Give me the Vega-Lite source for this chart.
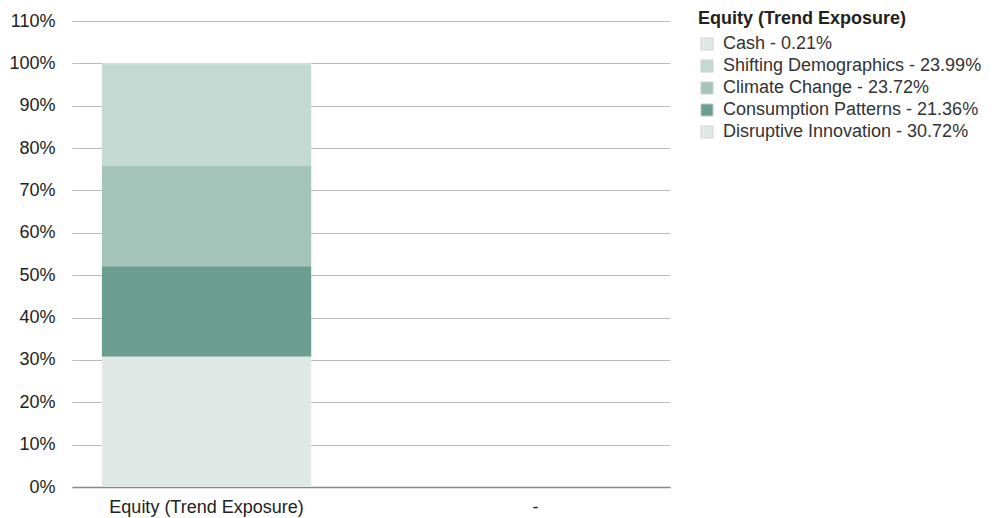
{
  "$schema": "https://vega.github.io/schema/vega-lite/v6.json",
  "width": 598,
  "height": 466,
  "autosize": {"type": "none"},
  "padding": {"left": 72, "top": 21, "right": 327, "bottom": 31},
  "background": "white",
  "config": {
    "font": "Liberation Sans",
    "view": {"stroke": null},
    "axis": {"labelFont": "Liberation Sans", "labelColor": "#222", "labelFontSize": 18}
  },
  "data": {
    "values": [
      {"category": "Equity (Trend Exposure)", "label": "Cash - 0.21%", "value": 0.0021, "order": 5},
      {"category": "Equity (Trend Exposure)", "label": "Shifting Demographics - 23.99%", "value": 0.2399, "order": 4},
      {"category": "Equity (Trend Exposure)", "label": "Climate Change - 23.72%", "value": 0.2372, "order": 3},
      {"category": "Equity (Trend Exposure)", "label": "Consumption Patterns - 21.36%", "value": 0.2136, "order": 2},
      {"category": "Equity (Trend Exposure)", "label": "Disruptive Innovation - 30.72%", "value": 0.3072, "order": 1},
      {"category": "-", "label": "Cash - 0.21%", "value": 0, "order": 5}
    ]
  },
  "mark": {"type": "bar"},
  "encoding": {
    "x": {
      "field": "category",
      "type": "nominal",
      "sort": ["Equity (Trend Exposure)", "-"],
      "scale": {"paddingInner": 0.3636, "paddingOuter": 0.0909},
      "axis": {"title": null, "labelAngle": 0, "ticks": false, "labelPadding": 11, "labelLimit": 400, "domainColor": "#888", "domainWidth": 1.5}
    },
    "y": {
      "field": "value",
      "type": "quantitative",
      "stack": "zero",
      "scale": {"domain": [0, 1.1], "nice": false},
      "axis": {
        "title": null,
        "format": ".0%",
        "values": [0, 0.1, 0.2, 0.3, 0.4, 0.5, 0.6, 0.7, 0.8, 0.9, 1.0, 1.1],
        "ticks": false,
        "domain": false,
        "labelPadding": 17,
        "gridColor": "#bbbbbb",
        "gridWidth": 1
      }
    },
    "color": {
      "field": "label",
      "type": "nominal",
      "scale": {
        "domain": ["Cash - 0.21%", "Shifting Demographics - 23.99%", "Climate Change - 23.72%", "Consumption Patterns - 21.36%", "Disruptive Innovation - 30.72%"],
        "range": ["#e0e9e6", "#c3d9d1", "#a5c5ba", "#6b9e91", "#e0e9e6"]
      },
      "legend": {
        "title": "Equity (Trend Exposure)",
        "orient": "none",
        "legendX": 626,
        "legendY": -11,
        "titleFontSize": 18,
        "titleFontWeight": "bold",
        "titleColor": "#222",
        "titlePadding": 7,
        "titleLimit": 400,
        "labelFontSize": 18,
        "labelColor": "#333",
        "labelLimit": 400,
        "symbolType": "square",
        "symbolSize": 150,
        "symbolStrokeColor": "#d8d8d8",
        "symbolStrokeWidth": 1,
        "rowPadding": 4,
        "labelOffset": 7
      }
    },
    "order": {"field": "order", "type": "quantitative"}
  }
}
